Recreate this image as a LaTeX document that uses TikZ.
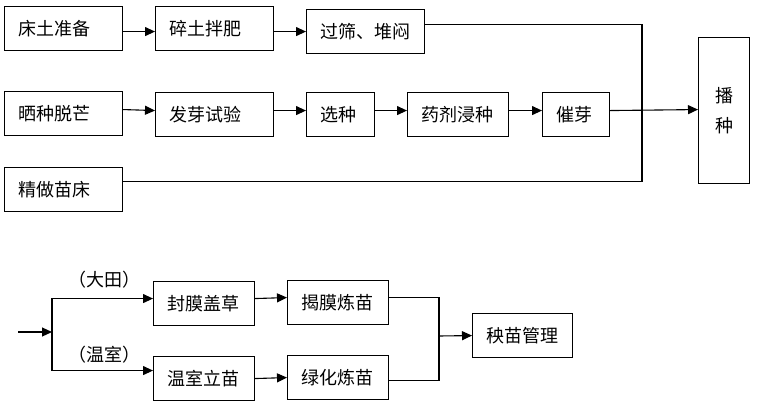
\documentclass[tikz,border=0pt]{standalone}
\usepackage{fontspec}
\setmainfont{Noto Sans CJK SC}
\usetikzlibrary{arrows.meta}

\begin{document}
\begin{tikzpicture}
[
    x=1pt, y=-1pt,
    every node/.style={font=\fontsize{18}{30}\selectfont},
    flowbox/.style={draw, line width=1.1pt, anchor=north west, text width=#1,
        align=left, inner xsep=14pt, inner ysep=0pt, minimum height=44pt},
    flow/.style={line width=1.1pt, -{Triangle[length=10pt,width=9pt]}},
    line/.style={line width=1.1pt},
]
\useasboundingbox (0,0) rectangle (760,405);
% seed-bed preparation and seed treatment
\node [flowbox=90] (chuangtu) at (4,6) {床土准备};
\node [flowbox=90] (suitu) at (155,6) {碎土拌肥};
\node [flowbox=90] (guoshai) at (306,9) {过筛、堆闷};
\node [flowbox=90] (shaizhong) at (4,91) {晒种脱芒};
\node [flowbox=90] (faya) at (155,92) {发芽试验};
\node [flowbox=40] (xuanzhong) at (306,92) {选种};
\node [flowbox=73] (yaoji) at (407,92) {药剂浸种};
\node [flowbox=39] (cuiya) at (542,92) {催芽};
\node [flowbox=90] (miaochuang) at (4,167) {精做苗床};
\node [draw, line width=1.1pt, anchor=north west, minimum width=51pt,
    minimum height=146pt, align=center] (bozhong) at (698,37) {播\\种};
\coordinate (huihe) at (642,109);

\draw [flow] ([yshift=-3pt]chuangtu.east) -- ([yshift=-3pt]suitu.west);
\draw [flow] ([yshift=-3pt]suitu.east) -- ([yshift=0pt]guoshai.west);
\draw [flow] ([yshift=4pt]shaizhong.east) -- ([yshift=4pt]faya.west);
\draw [flow] ([yshift=4pt]faya.east) -- ([yshift=4pt]xuanzhong.west);
\draw [flow] ([yshift=4pt]xuanzhong.east) -- ([yshift=4pt]yaoji.west);
\draw [flow] ([yshift=4pt]yaoji.east) -- ([yshift=4pt]cuiya.west);
\draw [flow] ([yshift=4pt]cuiya.east) -- ([yshift=1pt]bozhong.west);
\draw [line] ([yshift=7pt]guoshai.east) -| (huihe) |- ([yshift=8pt]miaochuang.east);

% seedling management
\node [flowbox=73] (fengmo) at (153,281) {封膜盖草};
\node [flowbox=73] (jiemo) at (287,280) {揭膜炼苗};
\node [flowbox=73] (wenshi) at (153,356) {温室立苗};
\node [flowbox=73] (lvhua) at (287,355) {绿化炼苗};
\node [flowbox=72] (yangmiao) at (472,313) {秧苗管理};
\coordinate (rukou) at (18,332);
\coordinate (fenzhi) at (52,332);
\coordinate (hebing) at (439,336);
\node (datian) at (104,280) {（大田）};
\node (wenshilbl) at (104,355) {（温室）};

\draw [flow] (rukou) -- (fenzhi);
\draw [flow] (fenzhi) |- ([yshift=5pt]fengmo.west);
\draw [flow] (fenzhi) |- ([yshift=8pt]wenshi.west);
\draw [flow] ([yshift=5pt]fengmo.east) -- ([yshift=5pt]jiemo.west);
\draw [flow] (wenshi.east) -- (lvhua.west);
\draw [line] ([yshift=5pt]jiemo.east) -| (hebing) |- ([yshift=-3pt]lvhua.east);
\draw [flow] (hebing) -- (yangmiao.west);
\end{tikzpicture}
\end{document}
